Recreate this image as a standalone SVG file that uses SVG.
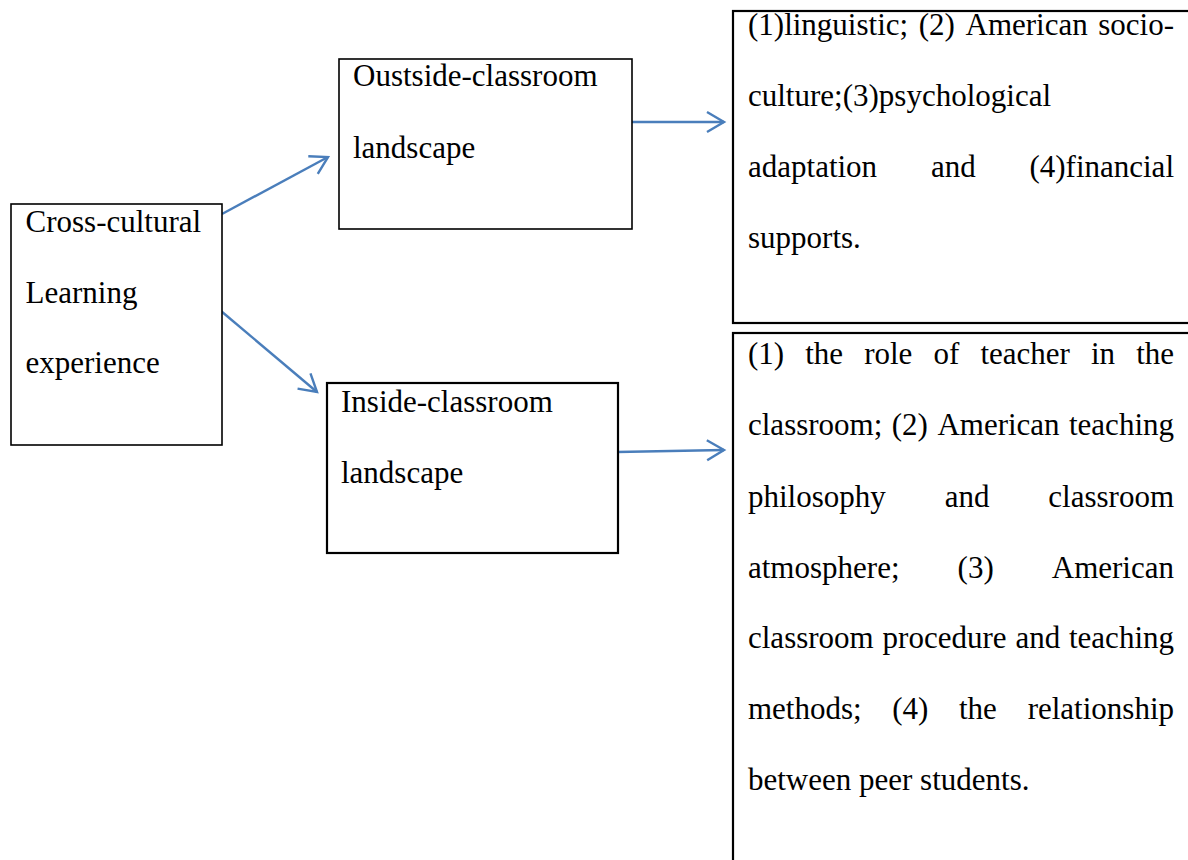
<svg xmlns="http://www.w3.org/2000/svg" width="1188" height="860" viewBox="0 0 1188 860">
<style>
text{font-family:"Liberation Serif","Times New Roman",serif;font-size:31px;fill:#000}
.box{fill:#fff;stroke:#000}
.thin{stroke-width:1.6}
.thick{stroke-width:2.2}
.conn{stroke:#4a7ebb;stroke-width:2.4;fill:none}
.e{text-anchor:end}
</style>
<defs>
<marker id="arr" viewBox="-20 -12 24 24" refX="0" refY="0" markerWidth="24" markerHeight="24" markerUnits="userSpaceOnUse" orient="auto">
<path d="M-17,-10 L0,0 L-17,10" fill="none" stroke="#4a7ebb" stroke-width="2.4" stroke-linejoin="miter"/>
</marker>
</defs>
<rect width="1188" height="860" fill="#fff"/>
<g id="connectors">
<line class="conn" x1="222" y1="214" x2="328" y2="157" marker-end="url(#arr)"/>
<line class="conn" x1="221" y1="311" x2="317" y2="392" marker-end="url(#arr)"/>
<line class="conn" x1="630" y1="122" x2="724" y2="122" marker-end="url(#arr)"/>
<line class="conn" x1="617" y1="452" x2="724" y2="450" marker-end="url(#arr)"/>
</g>
<g id="node-cross-cultural">
<rect class="box thin" x="11" y="204" width="211" height="241"/>
<text x="25.5" y="232">Cross-cultural</text>
<text x="25.5" y="303">Learning</text>
<text x="25.5" y="373">experience</text>
</g>
<g id="node-outside">
<rect class="box thin" x="339" y="59" width="293" height="170"/>
<text x="353" y="86">Oustside-classroom</text>
<text x="353" y="158">landscape</text>
</g>
<g id="node-inside">
<rect class="box thick" x="327" y="383" width="291" height="170"/>
<text x="341" y="412">Inside-classroom</text>
<text x="341" y="483">landscape</text>
</g>
<g id="node-outside-details">
<rect class="box thick" x="733" y="11" width="470" height="312"/>
<text y="35"><tspan x="748">(1)linguistic;</tspan><tspan x="918.8">(2)</tspan><tspan x="965.5">American</tspan></text>
<text class="e" x="1174" y="35">socio-</text>
<text x="748" y="106">culture;(3)psychological</text>
<text x="748" y="177">adaptation</text>
<text x="930.9" y="177">and</text>
<text class="e" x="1174" y="177">(4)financial</text>
<text x="748" y="248">supports.</text>
</g>
<g id="node-inside-details">
<rect class="box thick" x="733" y="333" width="470" height="540"/>
<text y="364"><tspan x="748">(1)</tspan><tspan x="805.2">the</tspan><tspan x="864.2">role</tspan><tspan x="933.5">of</tspan><tspan x="980.4">teacher</tspan><tspan x="1091">in</tspan></text>
<text class="e" x="1174" y="364">the</text>
<text y="435"><tspan x="748">classroom;</tspan><tspan x="891.8">(2)</tspan><tspan x="937.4">American</tspan></text>
<text class="e" x="1174" y="435">teaching</text>
<text y="507"><tspan x="748">philosophy</tspan><tspan x="944.7">and</tspan></text>
<text class="e" x="1174" y="507">classroom</text>
<text y="578"><tspan x="748">atmosphere;</tspan><tspan x="957.6">(3)</tspan></text>
<text class="e" x="1174" y="578">American</text>
<text y="648"><tspan x="748">classroom</tspan><tspan x="882.6">procedure</tspan><tspan x="1015.4">and</tspan></text>
<text class="e" x="1174" y="648">teaching</text>
<text y="719"><tspan x="748">methods;</tspan><tspan x="892.3">(4)</tspan><tspan x="959">the</tspan></text>
<text class="e" x="1174" y="719">relationship</text>
<text x="748" y="790">between peer students.</text>
</g>
</svg>
